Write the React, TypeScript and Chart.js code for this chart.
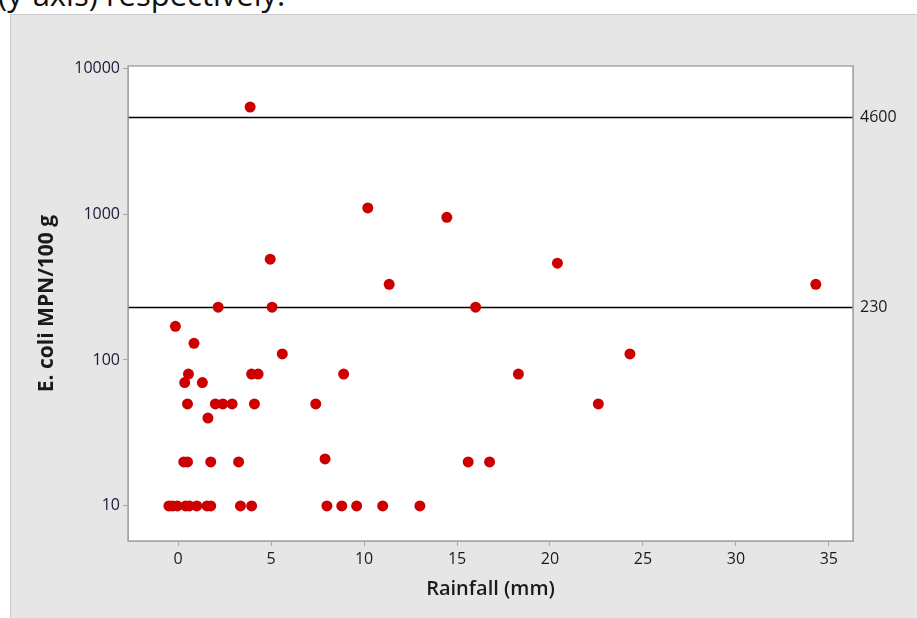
import React, { useEffect, useRef } from "react";
import { Chart, registerables } from "chart.js";

Chart.register(...registerables);

// Rainfall (mm) and E. coli MPN/100 g, paired by index
const rainfall = [
  3.87, 10.2, 14.45, 4.95, 20.4, 11.35, 34.3, 2.15, 5.05, 16.0,
  -0.15, 0.85, 5.6, 24.3, 0.55, 3.95, 4.3, 8.9, 18.3, 0.35,
  1.3, 0.5, 2.0, 2.4, 2.9, 4.1, 7.4, 22.6, 1.6, 0.3,
  0.5, 1.75, 3.25, 7.9, 15.6, 16.75, -0.5, -0.3, -0.05, 0.4,
  0.6, 1.0, 1.55, 1.75, 3.35, 3.95, 8.0, 8.8, 9.6, 11.0, 13.0,
];
const ecoli = [
  5400, 1100, 950, 490, 460, 330, 330, 230, 230, 230,
  170, 130, 110, 110, 80, 80, 80, 80, 80, 70,
  70, 50, 50, 50, 50, 50, 50, 50, 40, 20,
  20, 20, 20, 21, 20, 20, 10, 10, 10, 10,
  10, 10, 10, 10, 10, 10, 10, 10, 10, 10, 10,
];
const xTickValues = [0, 5, 10, 15, 20, 25, 30, 35];
const yTickValues = [10, 100, 1000, 10000];
const referenceLevels = [4600, 230];

const X_MIN = -2.7;
const X_MAX = 36.3;
const Y_MIN = 5.75;
const Y_MAX = 10330;

export default function App() {
  const canvasRef = useRef<HTMLCanvasElement>(null);

  useEffect(() => {
    if (!canvasRef.current) return;

    const plotBackground = {
      id: "plotBackground",
      beforeDraw(chart: any) {
        const { ctx, chartArea: a } = chart;
        ctx.save();
        ctx.fillStyle = "#ffffff";
        ctx.fillRect(a.left, a.top, a.right - a.left, a.bottom - a.top);
        ctx.restore();
      },
    };

    const refLines = {
      id: "refLines",
      beforeDatasetsDraw(chart: any) {
        const { ctx, chartArea: a, scales } = chart;
        ctx.save();
        ctx.strokeStyle = "#000000";
        ctx.lineWidth = 1.5;
        referenceLevels.forEach((v) => {
          const y = Math.round(scales.y.getPixelForValue(v)) + 0.5;
          ctx.beginPath();
          ctx.moveTo(a.left, y);
          ctx.lineTo(a.right, y);
          ctx.stroke();
        });
        ctx.restore();
      },
      afterDraw(chart: any) {
        const { ctx, chartArea: a } = chart;
        ctx.save();
        ctx.strokeStyle = "#a6a6a6";
        ctx.lineWidth = 1.5;
        ctx.strokeRect(a.left, a.top, a.right - a.left, a.bottom - a.top);
        ctx.restore();
      },
    };

    const tickFont = { family: "'Open Sans', 'Noto Sans', sans-serif", size: 16 };

    const chart = new Chart(canvasRef.current, {
      type: "scatter",
      data: {
        datasets: [
          {
            label: "E. coli",
            data: rainfall.map((x, i) => ({ x, y: ecoli[i] })),
            backgroundColor: "#cc0000",
            borderColor: "#cc0000",
            pointRadius: 5.5,
            pointHoverRadius: 5.5,
            borderWidth: 0,
          },
        ],
      },
      options: {
        animation: false,
        responsive: false,
        maintainAspectRatio: false,
        layout: { padding: { top: 66, left: 0, right: 0, bottom: 0 } },
        plugins: {
          legend: { display: false },
          tooltip: { enabled: false },
        },
        scales: {
          x: {
            type: "linear",
            min: X_MIN,
            max: X_MAX,
            afterBuildTicks: (axis: any) => {
              axis.ticks = xTickValues.map((value) => ({ value }));
            },
            afterFit: (axis: any) => {
              axis.height = 77;
            },
            grid: {
              drawOnChartArea: false,
              drawTicks: true,
              tickLength: 5,
              color: "#a6a6a6",
            },
            border: { display: true, color: "#a6a6a6" },
            ticks: {
              color: "#1a1a1a",
              font: tickFont,
              padding: 4,
              maxRotation: 0,
              callback: (v: any) => String(v),
            },
            title: {
              display: true,
              text: "Rainfall (mm)",
              color: "#1a1a1a",
              font: { family: "'Open Sans', 'Noto Sans', sans-serif", size: 20, weight: "600" },
              padding: { top: 0, bottom: 17 },
            },
          },
          y: {
            type: "logarithmic",
            position: "left",
            min: Y_MIN,
            max: Y_MAX,
            afterBuildTicks: (axis: any) => {
              axis.ticks = yTickValues.map((value) => ({ value }));
            },
            afterFit: (axis: any) => {
              axis.width = 128;
            },
            grid: {
              drawOnChartArea: false,
              drawTicks: true,
              tickLength: 5,
              color: "#a6a6a6",
            },
            border: { display: true, color: "#a6a6a6" },
            ticks: {
              color: "#1a1a3a",
              font: tickFont,
              padding: 3,
              callback: (v: any) => String(v),
            },
            title: {
              display: true,
              text: "E. coli MPN/100 g",
              color: "#1a1a1a",
              font: { family: "'Open Sans', 'Noto Sans', sans-serif", size: 21, weight: "bold" },
              padding: { top: 34, bottom: 0 },
            },
          },
          y2: {
            type: "logarithmic",
            position: "right",
            min: Y_MIN,
            max: Y_MAX,
            afterBuildTicks: (axis: any) => {
              axis.ticks = referenceLevels.map((value) => ({ value }));
            },
            afterFit: (axis: any) => {
              axis.width = 64;
            },
            grid: { display: false, drawOnChartArea: false, drawTicks: false },
            border: { display: true, color: "#a6a6a6" },
            ticks: {
              color: "#1a1a1a",
              font: tickFont,
              padding: 7,
              callback: (v: any) => String(v),
            },
          },
        },
      },
      plugins: [plotBackground, refLines],
    });

    return () => chart.destroy();
  }, []);

  return (
    <div
      style={{
        position: "absolute",
        left: 0,
        top: 0,
        width: 917,
        height: 618,
        overflow: "hidden",
        background: "#ffffff",
      }}
    >
      <div
        style={{
          position: "absolute",
          left: -2,
          top: -23,
          fontFamily: "'Open Sans', 'Noto Sans', sans-serif",
          fontSize: 31,
          lineHeight: "34px",
          color: "#111",
          whiteSpace: "nowrap",
        }}
      >
        (y-axis) respectively.
      </div>
      <div
        style={{
          position: "absolute",
          left: 10,
          top: 14,
          width: 907,
          height: 604,
          background: "#e6e6e6",
          borderLeft: "1px solid #cccccc",
          borderTop: "1px solid #cccccc",
          boxSizing: "border-box",
        }}
      />
      <canvas
        ref={canvasRef}
        width={917}
        height={618}
        style={{ position: "absolute", left: 0, top: 0, width: 917, height: 618 }}
      />
    </div>
  );
}
